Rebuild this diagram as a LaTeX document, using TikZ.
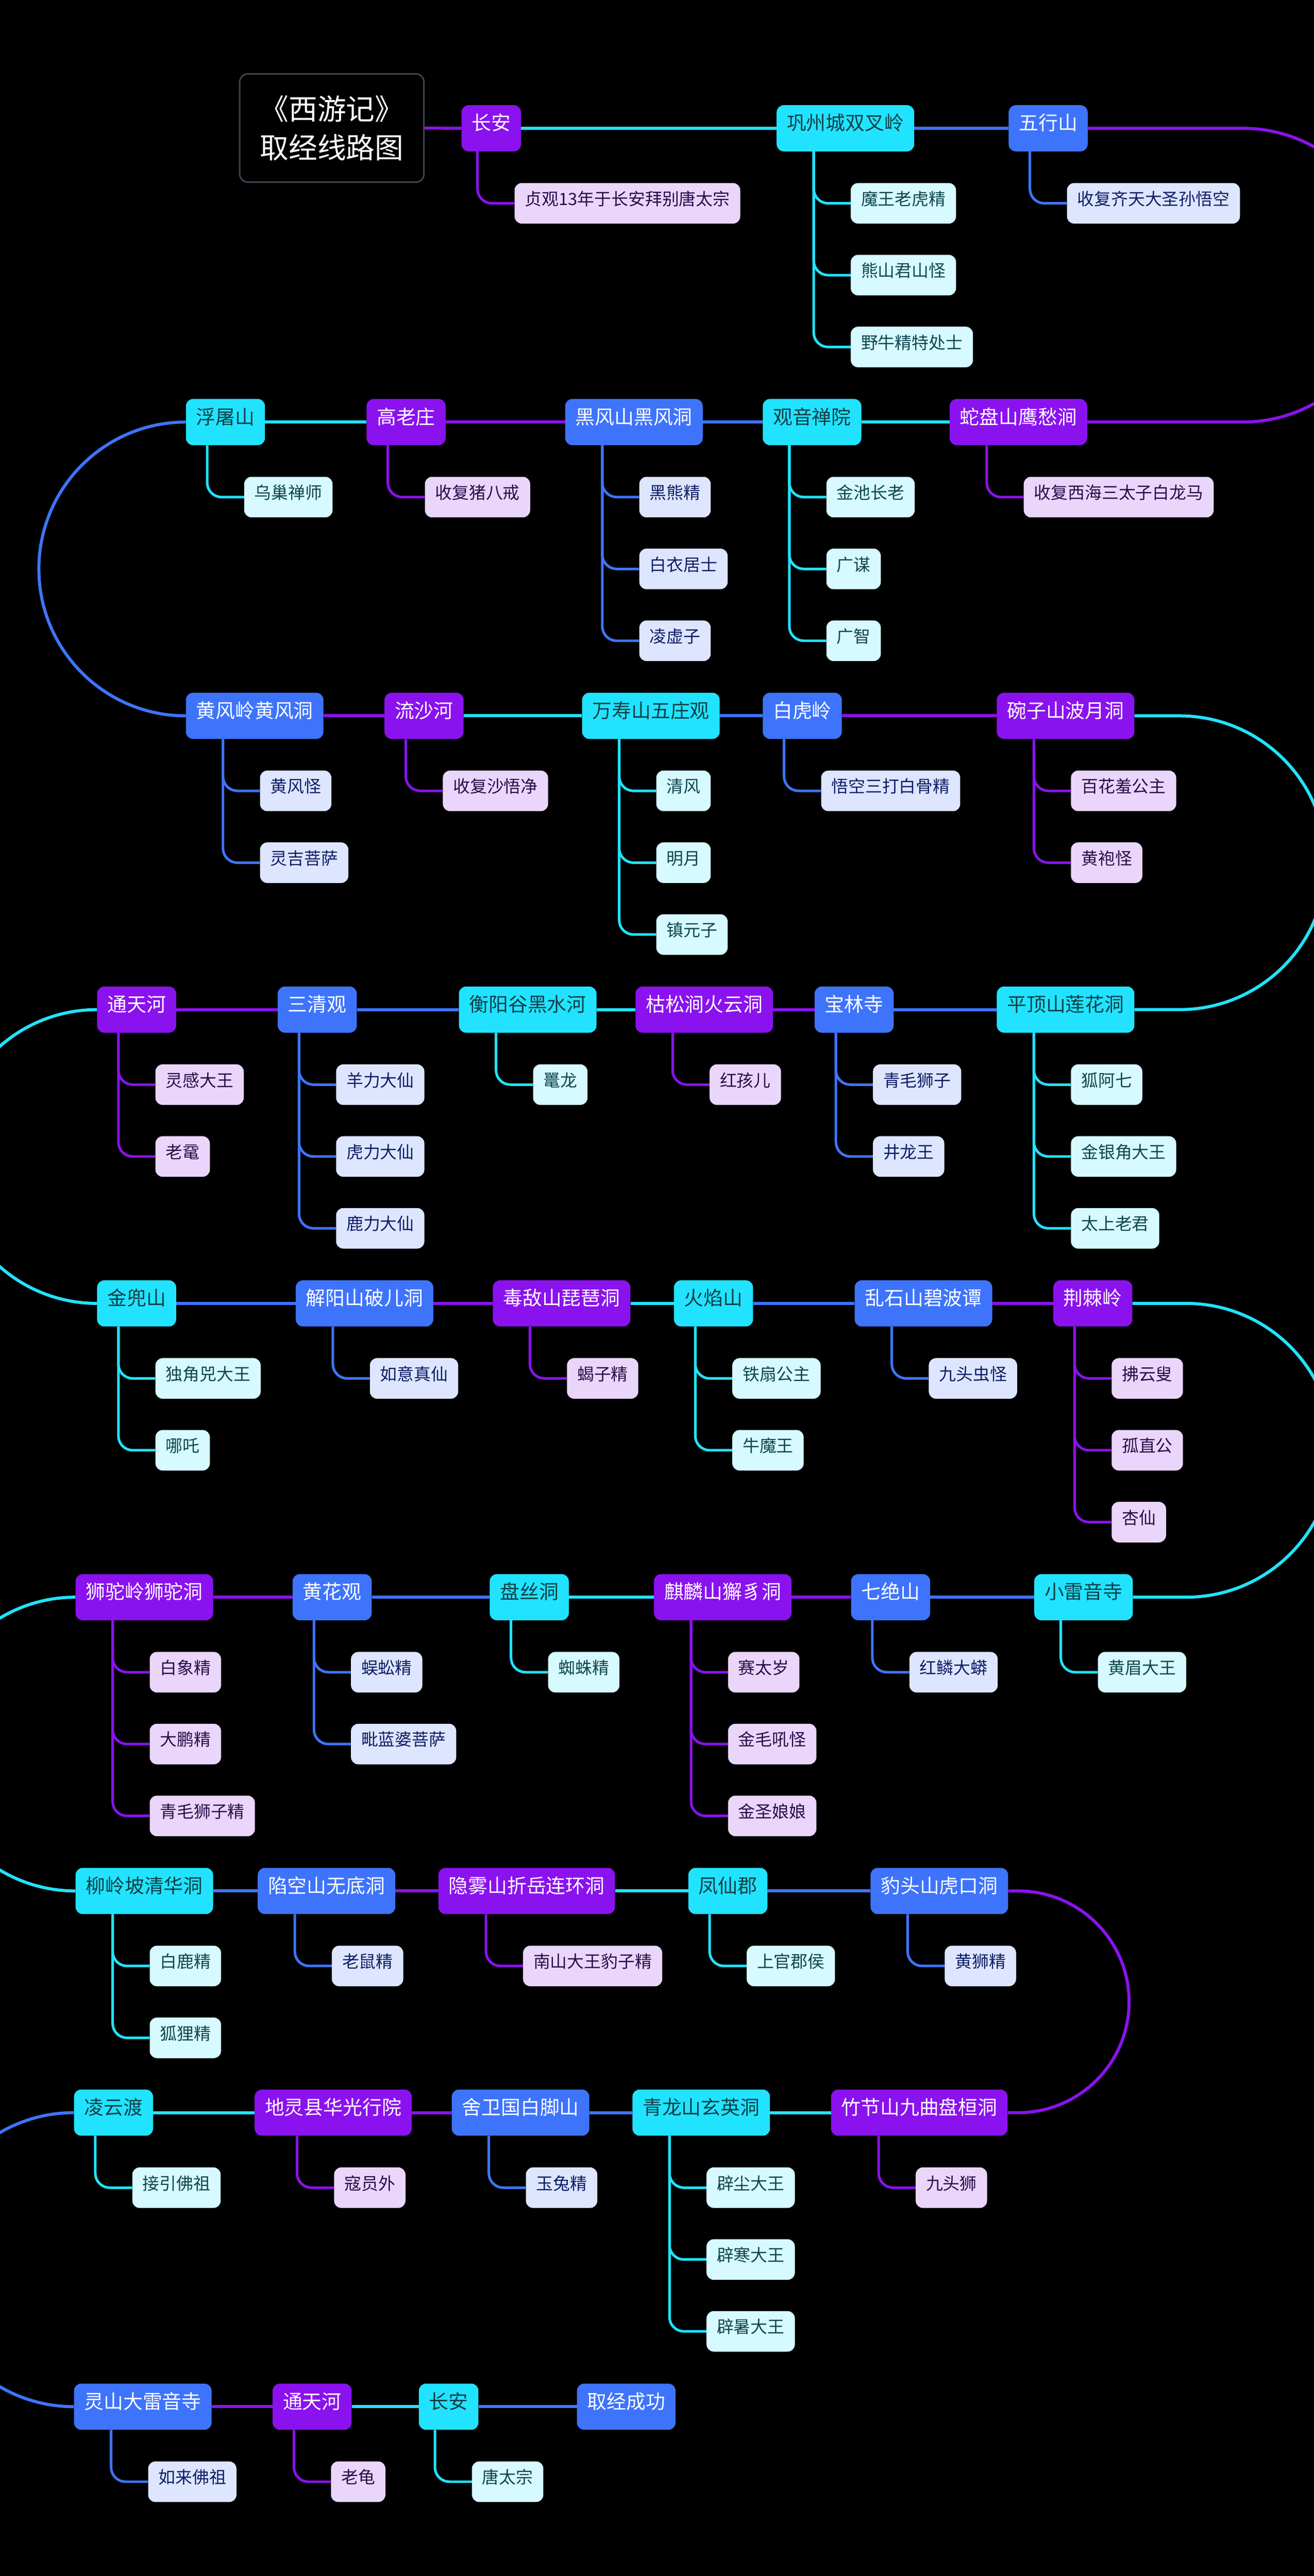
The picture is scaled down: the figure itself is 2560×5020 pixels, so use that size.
\documentclass[tikz,border=0pt]{standalone}
\usepackage{fontspec}
\setmainfont{Noto Sans CJK SC}
\usetikzlibrary{calc}
\definecolor{cP}{HTML}{8A12EE}
\definecolor{cC}{HTML}{21E3FF}
\definecolor{cB}{HTML}{3E74FC}
\definecolor{lP}{HTML}{EAD6FA}
\definecolor{lC}{HTML}{D6FAFF}
\definecolor{lB}{HTML}{DDE6FE}
\definecolor{dP}{HTML}{2B0B4B}
\definecolor{dC}{HTML}{0E4650}
\definecolor{dB}{HTML}{0D1E66}
\definecolor{tC}{HTML}{123E48}
\definecolor{frameC}{HTML}{3C4250}
\tikzset{
  mn/.style={rounded corners=14pt, minimum height=90pt, inner xsep=20pt, inner ysep=0pt,
     font=\fontsize{38}{40}\selectfont, text height=0.88em, text depth=0.12em, anchor=west},
  mP/.style={mn, fill=cP, text=white},
  mC/.style={mn, fill=cC, text=tC},
  mB/.style={mn, fill=cB, text=white},
  ch/.style={rounded corners=14pt, minimum height=79pt, inner xsep=20pt, inner ysep=0pt,
     font=\fontsize{33}{35}\selectfont, text height=0.88em, text depth=0.12em, anchor=west},
  chP/.style={ch, fill=lP, text=dP},
  chC/.style={ch, fill=lC, text=dC},
  chB/.style={ch, fill=lB, text=dB},
  clP/.style={draw=cP, line width=5pt, rounded corners=28pt},
  clC/.style={draw=cC, line width=5pt, rounded corners=28pt},
  clB/.style={draw=cB, line width=5pt, rounded corners=28pt},
  lnP/.style={draw=cP, line width=6pt},
  lnC/.style={draw=cC, line width=6pt},
  lnB/.style={draw=cB, line width=6pt},
  ttl/.style={draw=frameC, line width=3pt, rounded corners=16pt, fill=black, text=white,
     minimum width=359pt, minimum height=211pt, align=center,
     font=\fontsize{56}{76}\selectfont}
}
\newcommand\kids[3]{%
  \coordinate (#1v) at ($(#1.south west)!0.27!(#1.south east)$);
  \foreach \t [count=\k from 0] in {#3}{%
    \node[ch#2] (#1k\k) at ($(#1v)+(72,{-101-140*\k})$) {\t};
    \draw[cl#2] (#1v) |- (#1k\k.west);
  }%
}
\begin{document}
\begin{tikzpicture}[x=1pt,y=1pt]
\useasboundingbox (0,0) rectangle (2560,-5020);
\fill[black] (0,0) rectangle (2560,-5020);
\clip (0,0) rectangle (2560,-5020);

% ---------- Row 1
\node[ttl] (t) at (646.5,-249.5) {《西游记》\\取经线路图};
\node[mP] (a1) at (899,-250) {长安};
\node[mC] (a2) at (1513,-250) {巩州城双叉岭};
\node[mB] (a3) at (1965,-250) {五行山};
% ---------- Row 2
\node[mP] (b1) at (1850,-822.5) {蛇盘山鹰愁涧};
\node[mC] (b2) at (1486,-822.5) {观音禅院};
\node[mB] (b3) at (1101,-822.5) {黑风山黑风洞};
\node[mP] (b4) at (714,-822.5) {高老庄};
\node[mC] (b5) at (362,-822.5) {浮屠山};
% ---------- Row 3
\node[mB] (c1) at (362,-1395) {黄风岭黄风洞};
\node[mP] (c2) at (749,-1395) {流沙河};
\node[mC] (c3) at (1134,-1395) {万寿山五庄观};
\node[mB] (c4) at (1486,-1395) {白虎岭};
\node[mP] (c5) at (1942,-1395) {碗子山波月洞};
% ---------- Row 4
\node[mC] (d1) at (1942,-1967.5) {平顶山莲花洞};
\node[mB] (d2) at (1587,-1967.5) {宝林寺};
\node[mP] (d3) at (1238,-1967.5) {枯松涧火云洞};
\node[mC] (d4) at (894,-1967.5) {衡阳谷黑水河};
\node[mB] (d5) at (541,-1967.5) {三清观};
\node[mP] (d6) at (189,-1967.5) {通天河};
% ---------- Row 5
\node[mC] (e1) at (189,-2540) {金兜山};
\node[mB] (e2) at (576,-2540) {解阳山破儿洞};
\node[mP] (e3) at (960,-2540) {毒敌山琵琶洞};
\node[mC] (e4) at (1313,-2540) {火焰山};
\node[mB] (e5) at (1665,-2540) {乱石山碧波谭};
\node[mP] (e6) at (2052,-2540) {荆棘岭};
% ---------- Row 6
\node[mC] (f1) at (2015,-3112.5) {小雷音寺};
\node[mB] (f2) at (1658,-3112.5) {七绝山};
\node[mP] (f3) at (1274,-3112.5) {麒麟山獬豸洞};
\node[mC] (f4) at (954,-3112.5) {盘丝洞};
\node[mB] (f5) at (570,-3112.5) {黄花观};
\node[mP] (f6) at (147,-3112.5) {狮驼岭狮驼洞};
% ---------- Row 7
\node[mC] (g1) at (147,-3685) {柳岭坡清华洞};
\node[mB] (g2) at (502,-3685) {陷空山无底洞};
\node[mP] (g3) at (854,-3685) {隐雾山折岳连环洞};
\node[mC] (g4) at (1341,-3685) {凤仙郡};
\node[mB] (g5) at (1696,-3685) {豹头山虎口洞};
% ---------- Row 8
\node[mP] (h1) at (1619,-4117) {竹节山九曲盘桓洞};
\node[mC] (h2) at (1232,-4117) {青龙山玄英洞};
\node[mB] (h3) at (880,-4117) {舍卫国白脚山};
\node[mP] (h4) at (496,-4117) {地灵县华光行院};
\node[mC] (h5) at (144,-4117) {凌云渡};
% ---------- Row 9
\node[mB] (i1) at (144,-4690) {灵山大雷音寺};
\node[mP] (i2) at (531,-4690) {通天河};
\node[mC] (i3) at (816,-4690) {长安};
\node[mB] (i4) at (1124,-4690) {取经成功};

% ---------- children
\kids{a1}{P}{贞观13年于长安拜别唐太宗}
\kids{a2}{C}{魔王老虎精,熊山君山怪,野牛精特处士}
\kids{a3}{B}{收复齐天大圣孙悟空}
\kids{b1}{P}{收复西海三太子白龙马}
\kids{b2}{C}{金池长老,广谋,广智}
\kids{b3}{B}{黑熊精,白衣居士,凌虚子}
\kids{b4}{P}{收复猪八戒}
\kids{b5}{C}{乌巢禅师}
\kids{c1}{B}{黄风怪,灵吉菩萨}
\kids{c2}{P}{收复沙悟净}
\kids{c3}{C}{清风,明月,镇元子}
\kids{c4}{B}{悟空三打白骨精}
\kids{c5}{P}{百花羞公主,黄袍怪}
\kids{d1}{C}{狐阿七,金银角大王,太上老君}
\kids{d2}{B}{青毛狮子,井龙王}
\kids{d3}{P}{红孩儿}
\kids{d4}{C}{鼍龙}
\kids{d5}{B}{羊力大仙,虎力大仙,鹿力大仙}
\kids{d6}{P}{灵感大王,老鼋}
\kids{e1}{C}{独角兕大王,哪吒}
\kids{e2}{B}{如意真仙}
\kids{e3}{P}{蝎子精}
\kids{e4}{C}{铁扇公主,牛魔王}
\kids{e5}{B}{九头虫怪}
\kids{e6}{P}{拂云叟,孤直公,杏仙}
\kids{f1}{C}{黄眉大王}
\kids{f2}{B}{红鳞大蟒}
\kids{f3}{P}{赛太岁,金毛吼怪,金圣娘娘}
\kids{f4}{C}{蜘蛛精}
\kids{f5}{B}{蜈蚣精,毗蓝婆菩萨}
\kids{f6}{P}{白象精,大鹏精,青毛狮子精}
\kids{g1}{C}{白鹿精,狐狸精}
\kids{g2}{B}{老鼠精}
\kids{g3}{P}{南山大王豹子精}
\kids{g4}{C}{上官郡侯}
\kids{g5}{B}{黄狮精}
\kids{h1}{P}{九头狮}
\kids{h2}{C}{辟尘大王,辟寒大王,辟暑大王}
\kids{h3}{B}{玉兔精}
\kids{h4}{P}{寇员外}
\kids{h5}{C}{接引佛祖}
\kids{i1}{B}{如来佛祖}
\kids{i2}{P}{老龟}
\kids{i3}{C}{唐太宗}

% ---------- main path
\draw[lnP] (t.east) -- (a1.west);
\draw[lnC] (a1.east) -- (a2.west);
\draw[lnB] (a2.east) -- (a3.west);
\draw[lnP] (a3.east) -- ($(a3.east -| a3k0.east)+(5,0)$) arc[start angle=90,end angle=-90,radius=286.25] -- (b1.east);
\draw[lnC] (b1.west) -- (b2.east);
\draw[lnB] (b2.west) -- (b3.east);
\draw[lnP] (b3.west) -- (b4.east);
\draw[lnC] (b4.west) -- (b5.east);
\draw[lnB] (b5.west) arc[start angle=90,end angle=270,radius=286.25] -- (c1.west);
\draw[lnP] (c1.east) -- (c2.west);
\draw[lnC] (c2.east) -- (c3.west);
\draw[lnB] (c3.east) -- (c4.west);
\draw[lnP] (c4.east) -- (c5.west);
\draw[lnC] (c5.east) -- ($(c5.east -| c5k0.east)+(6,0)$) arc[start angle=90,end angle=-90,radius=286.25] -- (d1.east);
\draw[lnB] (d1.west) -- (d2.east);
\draw[lnP] (d2.west) -- (d3.east);
\draw[lnC] (d3.west) -- (d4.east);
\draw[lnB] (d4.west) -- (d5.east);
\draw[lnP] (d5.west) -- (d6.east);
\draw[lnC] (d6.west) arc[start angle=90,end angle=270,radius=286.25] -- (e1.west);
\draw[lnB] (e1.east) -- (e2.west);
\draw[lnP] (e2.east) -- (e3.west);
\draw[lnC] (e3.east) -- (e4.west);
\draw[lnB] (e4.east) -- (e5.west);
\draw[lnP] (e5.east) -- (e6.west);
\draw[lnC] (e6.east) -- ($(e6.east -| e6k0.east)+(6,0)$) arc[start angle=90,end angle=-90,radius=286.25] -- (f1.east);
\draw[lnB] (f1.west) -- (f2.east);
\draw[lnP] (f2.west) -- (f3.east);
\draw[lnC] (f3.west) -- (f4.east);
\draw[lnB] (f4.west) -- (f5.east);
\draw[lnP] (f5.west) -- (f6.east);
\draw[lnC] (f6.west) arc[start angle=90,end angle=270,radius=286.25] -- (g1.west);
\draw[lnB] (g1.east) -- (g2.west);
\draw[lnP] (g2.east) -- (g3.west);
\draw[lnC] (g3.east) -- (g4.west);
\draw[lnB] (g4.east) -- (g5.west);
\draw[lnP] (g5.east) -- ($(g5.east -| g5k0.east)+(4,0)$) arc[start angle=90,end angle=-90,radius=216] -- (h1.east);
\draw[lnC] (h1.west) -- (h2.east);
\draw[lnB] (h2.west) -- (h3.east);
\draw[lnP] (h3.west) -- (h4.east);
\draw[lnC] (h4.west) -- (h5.east);
\draw[lnB] (h5.west) arc[start angle=90,end angle=270,radius=286.5] -- (i1.west);
\draw[lnP] (i1.east) -- (i2.west);
\draw[lnC] (i2.east) -- (i3.west);
\draw[lnB] (i3.east) -- (i4.west);
\end{tikzpicture}
\end{document}
